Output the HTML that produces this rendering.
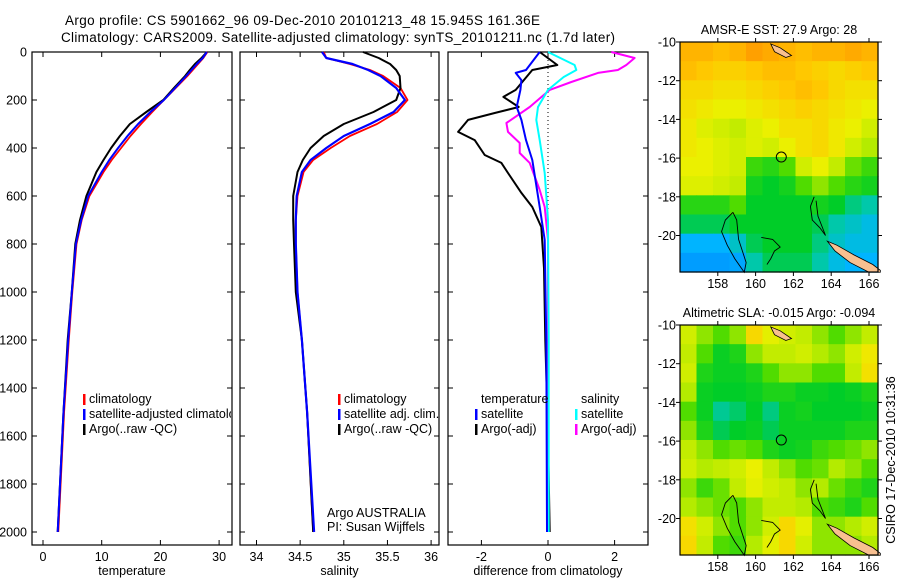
<!DOCTYPE html>
<html><head><meta charset="utf-8"><style>
html,body{margin:0;padding:0;background:#fff;}
svg{display:block;font-family:"Liberation Sans",sans-serif;}
text{fill:#000;}
</style></head><body>
<svg id="fig" width="900" height="580" viewBox="0 0 900 580" xmlns="http://www.w3.org/2000/svg">
<text x="65" y="25" font-size="13.5" textLength="475">Argo profile: CS 5901662_96 09-Dec-2010 20101213_48 15.945S 161.36E</text>
<text x="61" y="42" font-size="13.5" textLength="554">Climatology: CARS2009. Satellite-adjusted climatology: synTS_20101211.nc (1.7d later)</text>
<g id="p1"></g>
<g id="p2"></g>
<g id="p3"></g>
<g id="m1"></g>
<g id="m2"></g>
<text transform="translate(895,460) rotate(-90)" text-anchor="middle" font-size="12.5">CSIRO 17-Dec-2010 10:31:36</text>
</svg>
<script>
// ---- profile data ----
const depths = [0,25,50,75,100,150,200,250,300,350,400,450,500,600,700,800,1000,1200,1500,2000];
const tempClim = [28.0,27.3,26.4,25.5,24.6,22.6,20.6,18.6,16.7,14.9,13.3,11.7,10.3,7.9,6.6,5.7,5.0,4.4,3.6,2.6];
const tempSat  = [27.9,27.2,26.2,25.3,24.4,22.5,20.6,18.3,16.2,14.4,12.8,11.3,10.0,7.7,6.5,5.6,4.9,4.3,3.5,2.5];
const tempArgo = [27.9,27.0,25.9,25.0,24.2,22.3,20.5,17.6,14.8,13.1,11.6,10.3,9.1,7.4,6.3,5.5,4.9,4.2,3.5,2.5];
const salClim = [34.77,34.8,35.07,35.3,35.45,35.65,35.73,35.61,35.38,35.07,34.85,34.65,34.54,34.47,34.45,34.45,34.47,34.52,34.58,34.65];
const salSat  = [34.75,34.8,35.1,35.28,35.42,35.6,35.7,35.57,35.3,35.0,34.8,34.62,34.52,34.46,34.45,34.45,34.47,34.52,34.58,34.66];
const salArgo = [35.22,35.4,35.53,35.6,35.64,35.65,35.6,35.34,35.0,34.77,34.62,34.53,34.47,34.42,34.42,34.43,34.45,34.52,34.58,34.65];
const tArgoDepth = [0,54,75,158,187,229,254,283,333,367,429,462,504,587,646,729,900,1200,1600,2000];
const tArgoDiff  = [-0.25,0.28,-0.47,-0.97,-1.34,-0.88,-1.6,-2.4,-2.7,-2.2,-1.9,-1.4,-1.2,-0.8,-0.47,-0.2,-0.12,-0.08,0,0.05];
const tSatDepth = [0,75,87,117,158,229,283,367,450,646,783,1200,2000];
const tSatDiff  = [-0.25,-0.66,-0.97,-0.8,-0.83,-0.94,-0.8,-0.66,-0.47,-0.25,-0.1,-0.05,-0.03];
const sSatDepth = [0,54,75,104,158,229,283,367,504,700,1200,2000];
const sSatDiff  = [0,0.8,0.85,0.47,0,-0.3,-0.35,-0.25,-0.1,0,0.02,0.02];
const sArgoDepth = [0,25,54,75,87,125,158,229,296,333,379,421,462,575,646,783,1200,2000];
const sArgoDiff  = [1.9,2.6,2.35,2.1,1.5,0.7,0.05,-0.55,-1.25,-1.2,-0.85,-0.85,-0.55,-0.25,-0.1,0,0,-0.02];
const depthTicks = [0,200,400,600,800,1000,1200,1400,1600,1800,2000];
const tempTicks = [0,10,20,30];
const salTicks = [34,34.5,35,35.5,36];
const diffTicks = [-2,0,2];
// ---- map data (rows north->south, cols west->east) ----
const sstGrid = [
[.8,.8,.78,.8,.84,.82,.8,.78,.8,.8,.82,.8],
[.78,.76,.74,.74,.76,.78,.78,.76,.74,.72,.74,.76],
[.72,.72,.7,.7,.72,.74,.76,.78,.76,.72,.7,.7],
[.7,.68,.66,.66,.68,.7,.72,.74,.72,.7,.68,.66],
[.68,.64,.62,.6,.64,.66,.7,.7,.72,.68,.66,.62],
[.68,.66,.64,.62,.64,.62,.66,.7,.72,.68,.62,.58],
[.66,.66,.64,.62,.48,.46,.5,.62,.66,.6,.52,.48],
[.64,.64,.62,.6,.44,.42,.44,.5,.55,.5,.46,.44],
[.46,.46,.46,.5,.42,.42,.42,.42,.44,.42,.38,.36],
[.4,.4,.4,.42,.42,.42,.42,.42,.4,.36,.34,.32],
[.3,.3,.3,.34,.4,.42,.42,.42,.38,.34,.32,.32],
[.24,.24,.24,.26,.36,.4,.4,.4,.36,.32,.3,.3]];
const slaGrid = [
[.62,.55,.5,.55,.72,.65,.62,.6,.55,.5,.55,.6],
[.6,.5,.43,.45,.55,.6,.6,.62,.58,.55,.62,.68],
[.62,.45,.43,.43,.45,.5,.55,.55,.5,.5,.6,.7],
[.58,.43,.42,.42,.43,.45,.45,.43,.43,.42,.43,.45],
[.5,.43,.37,.39,.42,.38,.43,.44,.42,.42,.42,.43],
[.55,.45,.4,.42,.43,.4,.43,.43,.43,.43,.45,.45],
[.6,.55,.5,.52,.5,.45,.43,.44,.48,.5,.52,.55],
[.62,.58,.6,.62,.66,.6,.55,.5,.52,.58,.55,.5],
[.55,.48,.52,.6,.65,.62,.6,.55,.58,.52,.48,.45],
[.58,.55,.52,.5,.55,.6,.6,.58,.5,.48,.45,.5],
[.7,.62,.55,.5,.55,.62,.72,.65,.55,.55,.58,.62],
[.72,.6,.5,.48,.58,.65,.72,.62,.55,.55,.55,.58]];
const latTicks = [-10,-12,-14,-16,-18,-20];
const lonTicks = [158,160,162,164,166];
const argoLon = 161.36, argoLat = -15.945;

const NS='http://www.w3.org/2000/svg';
function mk(parent,tag,attrs,txt){const e=document.createElementNS(NS,tag);for(const k in attrs)e.setAttribute(k,attrs[k]);if(txt!==undefined)e.textContent=txt;parent.appendChild(e);return e;}

const PT=52, PB=545;
const yD = d => 52 + d*0.24;

function panel(g,left,right,xf,ticks,label,showY){
  const f=mk(g,'rect',{x:left,y:PT,width:right-left,height:PB-PT,fill:'#fff',stroke:'#000','stroke-width':1.2});
  
  
  depthTicks.forEach(d=>{
    mk(g,'line',{x1:left,x2:left+5,y1:yD(d),y2:yD(d),stroke:'#000'});
    mk(g,'line',{x1:right-5,x2:right,y1:yD(d),y2:yD(d),stroke:'#000'});
    if(showY){const t=mk(g,'text',{x:27,y:yD(d)+4.5,'text-anchor':'end','font-size':12.5},String(d));
      
      }
  });
  ticks.forEach(v=>{
    const x=xf(v);
    mk(g,'line',{x1:x,x2:x,y1:PB-5,y2:PB,stroke:'#000'});
    mk(g,'line',{x1:x,x2:x,y1:PT,y2:PT+5,stroke:'#000'});
    const t=mk(g,'text',{x:x,y:561,'text-anchor':'middle','font-size':12.5},String(v));
    
    
  });
  const l=mk(g,'text',{x:(left+right)/2,y:575,'text-anchor':'middle','font-size':12.5},label);
  
  
}
function series(g,ds,vs,xf,color,w,name){
  const pts=ds.map((d,i)=>xf(vs[i]).toFixed(1)+','+yD(d).toFixed(1)).join(' ');
  const p=mk(g,'polyline',{points:pts,fill:'none',stroke:color,'stroke-width':w,'stroke-linejoin':'round'});
  
  
}
function legend(g,x,y,color,txt,name){
  if(color) mk(g,'rect',{x:x,y:y-9,width:2.5,height:11,fill:color});
  const t=mk(g,'text',{x:x+6,y:y,'font-size':12.5},txt);
  
  
}

// Panel 1
const g1=document.getElementById('p1');
const xT=v=>43+v*5.87;
panel(g1,32,232,xT,tempTicks,'temperature',true);
const c1=mk(g1,'g',{});
series(c1,depths,tempClim,xT,'#f00',1.8,'temp-climatology-line');
series(c1,depths,tempArgo,xT,'#000',2,'temp-argo-line');
series(c1,depths,tempSat,xT,'#00f',2,'temp-satellite-line');
const cp=mk(document.getElementById('fig'),'clipPath',{id:'cp1'});mk(cp,'rect',{x:32,y:52,width:199,height:493});
const lg1=mk(g1,'g',{'clip-path':'url(#cp1)'});
legend(lg1,83,403,'#f00','climatology','legend-climatology');
legend(lg1,83,418,'#00f','satellite-adjusted climatology','legend-satellite-adjusted');
legend(lg1,83,433,'#000','Argo(..raw -QC)','legend-argo');

// Panel 2
const g2=document.getElementById('p2');
const xS=v=>256.5+(v-34)*87.3;
panel(g2,240,439,xS,salTicks,'salinity',false);
series(g2,depths,salClim,xS,'#f00',1.8,'sal-climatology-line');
series(g2,depths,salArgo,xS,'#000',2,'sal-argo-line');
series(g2,depths,salSat,xS,'#00f',2.2,'sal-satellite-line');
legend(g2,338,403,'#f00','climatology','legend-climatology');
legend(g2,338,418,'#00f','satellite adj. clim.','legend-satellite-adj');
legend(g2,338,433,'#000','Argo(..raw -QC)','legend-argo');
const a1=mk(g2,'text',{x:327,y:517,'font-size':12.5},'Argo AUSTRALIA');

const a2=mk(g2,'text',{x:327,y:531,'font-size':12.5},'PI: Susan Wijffels');


// Panel 3
const g3=document.getElementById('p3');
const xDf=v=>548+v*33.3;
panel(g3,448,648,xDf,diffTicks,'difference from climatology',false);
mk(g3,'line',{x1:xDf(0),x2:xDf(0),y1:yD(0),y2:yD(1050),stroke:'#000','stroke-dasharray':'1,3'});
series(g3,tArgoDepth,tArgoDiff,xDf,'#000',2,'temp-argo-diff-line');
series(g3,sArgoDepth,sArgoDiff,xDf,'#f0f',2,'sal-argo-diff-line');
series(g3,sSatDepth,sSatDiff,xDf,'#0ff',2,'sal-satellite-diff-line');
series(g3,tSatDepth,tSatDiff,xDf,'#00f',2,'temp-satellite-diff-line');
legend(g3,475,403,null,'temperature','legend-temperature-header');
legend(g3,475,418,'#00f','satellite','legend-temp-satellite');
legend(g3,475,433,'#000','Argo(-adj)','legend-temp-argo');
legend(g3,575,403,null,'salinity','legend-salinity-header');
legend(g3,575,418,'#0ff','satellite','legend-sal-satellite');
legend(g3,575,433,'#f0f','Argo(-adj)','legend-sal-argo');

// Maps
const stops=[[0,[0,64,255]],[0.3,[0,180,255]],[0.36,[0,200,170]],[0.42,[0,205,40]],[0.5,[80,220,0]],[0.58,[180,235,0]],[0.66,[235,240,0]],[0.76,[255,200,0]],[0.86,[255,150,0]],[1,[255,80,0]]];
function cmap(v){for(let i=1;i<stops.length;i++){if(v<=stops[i][0]){const a=stops[i-1],b=stops[i],t=(v-a[0])/(b[0]-a[0]);const c=a[1].map((x,k)=>Math.round(x+(b[1][k]-x)*t));return 'rgb('+c.join(',')+')';}}return 'rgb(255,80,0)';}
function drawMap(g,top,grid,title,name){
  const L=680,R=878,B=top+230;
  const mx=lon=>L+(lon-156)*18.9, my=lat=>top+(-10-lat)*19.35;
  const tt=mk(g,'text',{x:(L+R)/2,y:top-8,'text-anchor':'middle','font-size':12.5},title);
  
  const rows=grid.length,cols=grid[0].length,cw=(R-L)/cols,ch=(B-top)/rows;
  grid.forEach((row,r)=>row.forEach((v,c)=>{
    const cell=mk(g,'rect',{x:(L+c*cw).toFixed(2),y:(top+r*ch).toFixed(2),width:(cw+0.6).toFixed(2),height:(ch+0.6).toFixed(2),fill:cmap(v)});
    
    
  }));
  mk(g,'polygon',{points:[[163.8,-20.3],[164.3,-20.5],[165.2,-21.0],[166.2,-21.5],[166.6,-21.8],[166.6,-21.9],[166.0,-21.9],[165.0,-21.4],[164.2,-20.8]].map(p=>mx(p[0])+','+my(p[1])).join(' '),fill:'#f8c090',stroke:'#000','stroke-width':0.8});
  mk(g,'polygon',{points:[[160.8,-10.1],[161.3,-10.3],[161.9,-10.7],[161.6,-10.8],[161.0,-10.5]].map(p=>mx(p[0])+','+my(p[1])).join(' '),fill:'#f8c090',stroke:'#000','stroke-width':0.8});
  mk(g,'polyline',{points:[[158.8,-18.8],[158.4,-19.2],[158.2,-19.8],[158.5,-20.5],[158.9,-21.2],[159.4,-21.9],[159.5,-21.4],[159.1,-20.2],[159.0,-19.2],[158.8,-18.8]].map(p=>mx(p[0])+','+my(p[1])).join(' '),fill:'none',stroke:'#000','stroke-width':0.9});
  mk(g,'polyline',{points:[[160.3,-20.1],[160.9,-20.2],[161.3,-20.6],[161.0,-20.8],[160.8,-21.2],[160.6,-21.5]].map(p=>mx(p[0])+','+my(p[1])).join(' '),fill:'none',stroke:'#000','stroke-width':0.9});
  mk(g,'polyline',{points:[[163.1,-18.0],[162.9,-18.5],[163.0,-19.2],[163.4,-19.6],[163.7,-20.0],[163.3,-19.0],[163.2,-18.2]].map(p=>mx(p[0])+','+my(p[1])).join(' '),fill:'none',stroke:'#000','stroke-width':0.9});
  mk(g,'circle',{cx:mx(argoLon),cy:my(argoLat),r:5,fill:'none',stroke:'#000','stroke-width':1});
  const fr=mk(g,'rect',{x:L,y:top,width:R-L,height:B-top,fill:'none',stroke:'#000','stroke-width':1.2});
  
  latTicks.forEach(v=>{const y=my(v);
    mk(g,'line',{x1:L-4,x2:L,y1:y,y2:y,stroke:'#000'});mk(g,'line',{x1:R,x2:R+4,y1:y,y2:y,stroke:'#000'});
    const t=mk(g,'text',{x:L-4,y:y+4.5,'text-anchor':'end','font-size':12.5},String(v));
    });
  lonTicks.forEach(v=>{const x=mx(v);
    mk(g,'line',{x1:x,x2:x,y1:B,y2:B+4,stroke:'#000'});mk(g,'line',{x1:x,x2:x,y1:top-4,y2:top,stroke:'#000'});
    const t=mk(g,'text',{x:x,y:B+16,'text-anchor':'middle','font-size':12.5},String(v));
    });
}
drawMap(document.getElementById('m1'),42,sstGrid,'AMSR-E SST: 27.9 Argo: 28','sst-map');
drawMap(document.getElementById('m2'),325,slaGrid,'Altimetric SLA: -0.015 Argo: -0.094','sla-map');
</script>
</body></html>
